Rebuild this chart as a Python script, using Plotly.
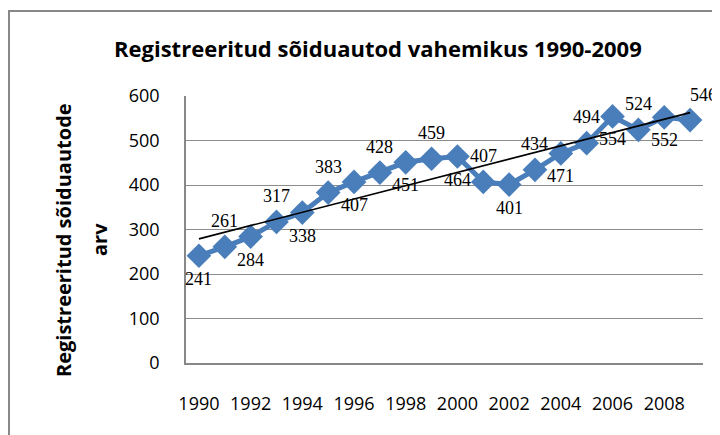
import numpy as np
import plotly.graph_objects as go

years = list(range(1990, 2010))
values = [241, 261, 284, 317, 338, 383, 407, 428, 451, 459,
          464, 407, 401, 434, 471, 494, 554, 524, 552, 546]
title_text = "Registreeritud sõiduautod vahemikus 1990-2009"
ytitle_lines = ["Registreeritud sõiduautode", "arv"]

# page body has an 8px margin; compensate so the figure lands on the target window
OFF = 8
W, H = 720 - OFF, 435 - OFF
L, T = 186 - OFF, 96 - OFF
R = 720 - 703
B = 435 - 363
pw, ph = W - L - R, H - T - B


def px_x(sx):
    return (sx - OFF - L) / pw


def px_y(sy):
    return 1 - (sy - OFF - T) / ph


coef = np.polyfit(years, values, 1)
trend = np.polyval(coef, years)

fig = go.Figure()
fig.add_trace(go.Scatter(
    x=years, y=values, mode="lines+markers",
    line=dict(color="#4A7EBB", width=5),
    marker=dict(symbol="diamond", size=19, color="#4A7EBB"),
    cliponaxis=False, showlegend=False, hoverinfo="x+y"))
fig.add_trace(go.Scatter(
    x=years, y=trend, mode="lines",
    line=dict(color="black", width=1.6), showlegend=False, hoverinfo="skip"))

lab_font = dict(family="Liberation Serif", size=18, color="black")
annots = []
for i, (yr, v) in enumerate(zip(years, values)):
    above = (i % 2 == 1)
    if i == len(years) - 1:
        annots.append(dict(xref="paper", x=px_x(719), y=v,
                           text=str(v), showarrow=False,
                           xanchor="right", yanchor="middle", yshift=25,
                           font=lab_font))
    else:
        annots.append(dict(x=yr, y=v, text=str(v), showarrow=False,
                           xanchor="center", yanchor="middle",
                           yshift=26 if above else -23, font=lab_font))

for line_text, cx in zip(ytitle_lines, [63, 99]):
    annots.append(dict(xref="paper", yref="paper", x=px_x(cx), y=px_y(240),
                       text="<b>" + line_text + "</b>", textangle=-90, showarrow=False,
                       xanchor="center", yanchor="middle",
                       font=dict(family="Open Sans", size=20, color="black")))
annots.append(dict(xref="paper", yref="paper", x=px_x(378), y=px_y(48),
                   text="<b>" + title_text + "</b>", showarrow=False,
                   xanchor="center", yanchor="middle",
                   font=dict(family="Open Sans", size=22, color="black")))

fig.update_layout(
    width=W, height=H,
    margin=dict(l=L, r=R, t=T, b=B),
    paper_bgcolor="white", plot_bgcolor="white",
    annotations=annots,
    shapes=[dict(type="rect", xref="paper", yref="paper",
                 x0=px_x(9), x1=px_x(760),
                 y0=px_y(470), y1=px_y(11),
                 line=dict(color="#888888", width=2), layer="below")],
    xaxis=dict(range=[1989.5, 2009.5], tickmode="array", automargin=False,
               tickvals=years[::2], ticktext=[str(y) for y in years[::2]],
               showgrid=False, zeroline=False, showline=True,
               linecolor="#888888", linewidth=1.5, ticks="",
               ticklabelstandoff=24,
               tickfont=dict(family="Open Sans", size=18, color="black")),
    yaxis=dict(range=[0, 600], dtick=100, showgrid=True, automargin=False,
               gridcolor="#8c8c8c", gridwidth=1.3, zeroline=False,
               showline=True, linecolor="#888888", linewidth=1.5, ticks="",
               ticklabelstandoff=21,
               tickfont=dict(family="Open Sans", size=18, color="black")),
)

fig.write_html("out.html")
